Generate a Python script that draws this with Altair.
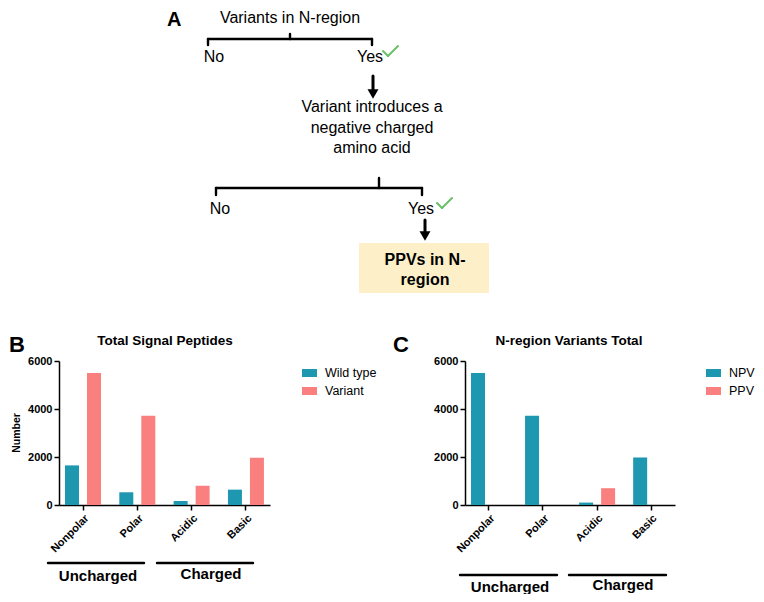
import altair as alt
import pandas as pd

FONT = "Liberation Sans"
TEAL = "#1E97B0"
SALMON = "#FA8080"
GREEN = "#6ABF69"
BOX = "#FDF0C9"

# ---------------- data ----------------
categories = ["Nonpolar", "Polar", "Acidic", "Basic"]
b_series = ["Wild type", "Variant"]
wild_type = [1650, 530, 170, 640]
variant = [5500, 3720, 800, 1970]
c_series = ["NPV", "PPV"]
npv = [5500, 3720, 100, 1980]
ppv = [0, 0, 700, 0]
y_ticks = [0, 2000, 4000, 6000]
group_labels = ["Uncharged", "Charged"]
panel_titles = ["Total Signal Peptides", "N-region Variants Total"]
panel_letters = ["A", "B", "C"]
y_title = "Number"
flow_question_1 = "Variants in N-region"
flow_question_2 = ["Variant introduces a", "negative charged", "amino acid"]
flow_answers = ["No", "Yes"]
flow_result = ["PPVs in N-", "region"]

dfB = pd.DataFrame({
    "category": categories * 2,
    "series": [b_series[0]] * 4 + [b_series[1]] * 4,
    "value": wild_type + variant,
})
dfC = pd.DataFrame({
    "category": categories * 2,
    "series": [c_series[0]] * 4 + [c_series[1]] * 4,
    "value": npv + ppv,
})
one = pd.DataFrame({"k": [0]})

OX, OY = 8, 8  # page margin: reference px -> chart px


def y_axis(offset):
    return alt.Axis(orient="left", offset=offset, values=y_ticks, format="d", title=None,
                    grid=False, domainColor="black", domainWidth=1.5, tickColor="black",
                    tickWidth=1.5, tickSize=5, labelFont=FONT, labelFontWeight="bold",
                    labelFontSize=11, labelColor="black", labelPadding=2)


def x_axis(offset):
    return alt.Axis(orient="bottom", offset=offset, title=None, labelAngle=-45,
                    domainColor="black", domainWidth=1.5, tickColor="black", tickWidth=1.5,
                    tickSize=5, labelFont=FONT, labelFontWeight="bold", labelFontSize=11,
                    labelColor="black", labelPadding=2)


def legend(lx, ly):
    return alt.Legend(orient="none", legendX=lx, legendY=ly, title=None,
                      symbolType="M-1,-0.53H1V0.53H-1Z", symbolSize=225,
                      symbolStrokeWidth=0, symbolOpacity=1, labelFont=FONT,
                      labelFontSize=12.5, labelColor="black", labelOffset=8,
                      rowPadding=4, padding=0)


Y_RANGE = [505 - OY, 361 - OY]


def bars(df, series, xr, lx):
    return alt.Chart(df).mark_bar().encode(
        x=alt.X("category:N", sort=categories,
                scale=alt.Scale(range=[xr[0] - OX, xr[1] - OX], paddingInner=0.115, paddingOuter=0),
                axis=x_axis(-(586 - (505 - OY)))),
        xOffset=alt.XOffset("series:N", sort=series,
                            scale=alt.Scale(domain=series, range=[6, 42], paddingInner=0.364, paddingOuter=0)),
        y=alt.Y("value:Q", scale=alt.Scale(domain=[0, 6000], range=Y_RANGE, nice=False, zero=True),
                axis=y_axis(-(xr[0] - OX))),
        color=alt.Color("series:N", scale=alt.Scale(domain=series, range=[TEAL, SALMON]),
                        legend=legend(lx - OX, 373 - OY - 7.5)),
    )


def text(s, x, y, size, bold=False, align="center", angle=None, baseline="middle"):
    kw = dict(fontSize=size, font=FONT, align=align, baseline=baseline, color="black")
    if bold:
        kw["fontWeight"] = "bold"
    if angle is not None:
        kw["angle"] = angle
    return alt.Chart(pd.DataFrame({"t": [s]})).mark_text(**kw).encode(
        x=alt.value(x - OX), y=alt.value(y - OY), text="t:N")


def rule(x1, y1, x2, y2, color="black", w=2.4):
    return alt.Chart(one).mark_rule(color=color, strokeWidth=w, strokeCap="round").encode(
        x=alt.value(x1 - OX), y=alt.value(y1 - OY), x2=alt.value(x2 - OX), y2=alt.value(y2 - OY))


def arrow(x, y1, y2):
    return [
        rule(x, y1, x, y2 - 8, w=3),
        alt.Chart(one).mark_point(shape="triangle-down", filled=True, color="black",
                                  opacity=1, size=120).encode(
            x=alt.value(x - OX), y=alt.value(y2 - 6 - OY)),
    ]


def bracket(x1, x2, y, xc, top, bottom):
    return [
        rule(x1, y, x2, y),
        rule(x1, y, x1, bottom),
        rule(x2, y, x2, bottom),
        rule(xc, top, xc, y),
    ]


def check(x, y):
    return [
        rule(x, y, x + 5, y + 5, color=GREEN, w=2),
        rule(x + 5, y + 5, x + 15, y - 5, color=GREEN, w=2),
    ]


layers = [
    bars(dfB, b_series, (59, 270), 302),
    bars(dfC, c_series, (465, 675), 706),
]

# ---- panel A: flow diagram ----
layers.append(text(panel_letters[0], 167, 20, 20, bold=True, align="left"))
layers.append(text(flow_question_1, 290, 18, 16))
layers += bracket(208, 372, 39, 290, 34, 45)
layers.append(text(flow_answers[0], 214, 57, 16))
layers.append(text(flow_answers[1], 370, 57, 16))
layers += check(383, 51)
layers += arrow(373, 76, 100)
for i, line in enumerate(flow_question_2):
    layers.append(text(line, 372, 107 + 20.5 * i, 16))
layers += bracket(216, 422, 188, 379, 178, 195)
layers.append(text(flow_answers[0], 220, 209, 16))
layers.append(text(flow_answers[1], 421, 209, 16))
layers += check(437, 203)
layers += arrow(425, 220, 242)
layers.append(alt.Chart(one).mark_rect(color=BOX).encode(
    x=alt.value(359 - OX), x2=alt.value(489 - OX), y=alt.value(243 - OY), y2=alt.value(293 - OY)))
layers.append(text(flow_result[0], 425, 260, 16, bold=True))
layers.append(text(flow_result[1], 425, 280, 16, bold=True))

# ---- panel B annotations ----
layers.append(text(panel_letters[1], 17, 345, 22, bold=True))
layers.append(text(panel_titles[0], 165, 341, 13.5, bold=True))
layers.append(text(y_title, 17, 433, 10.5, bold=True, angle=270))
layers.append(rule(48, 563, 144, 563))
layers.append(rule(157, 563, 253, 563))
layers.append(text(group_labels[0], 98, 576, 15, bold=True))
layers.append(text(group_labels[1], 211, 574, 15, bold=True))

# ---- panel C annotations ----
layers.append(text(panel_letters[2], 401, 345, 22, bold=True))
layers.append(text(panel_titles[1], 569, 341, 13.5, bold=True))
layers.append(rule(460, 575, 557, 575))
layers.append(rule(569, 575, 666, 575))
layers.append(text(group_labels[0], 510, 587, 15, bold=True))
layers.append(text(group_labels[1], 623, 585, 15, bold=True))

chart = alt.layer(*layers).properties(
    width=748, height=586,
    autosize=alt.AutoSizeParams(type="none"),
    padding=0,
    background="white",
).resolve_scale(
    x="independent", y="independent", xOffset="independent", color="independent"
).configure_view(stroke=None)

chart.save("out.html", embed_options={"renderer": "svg", "actions": False})
